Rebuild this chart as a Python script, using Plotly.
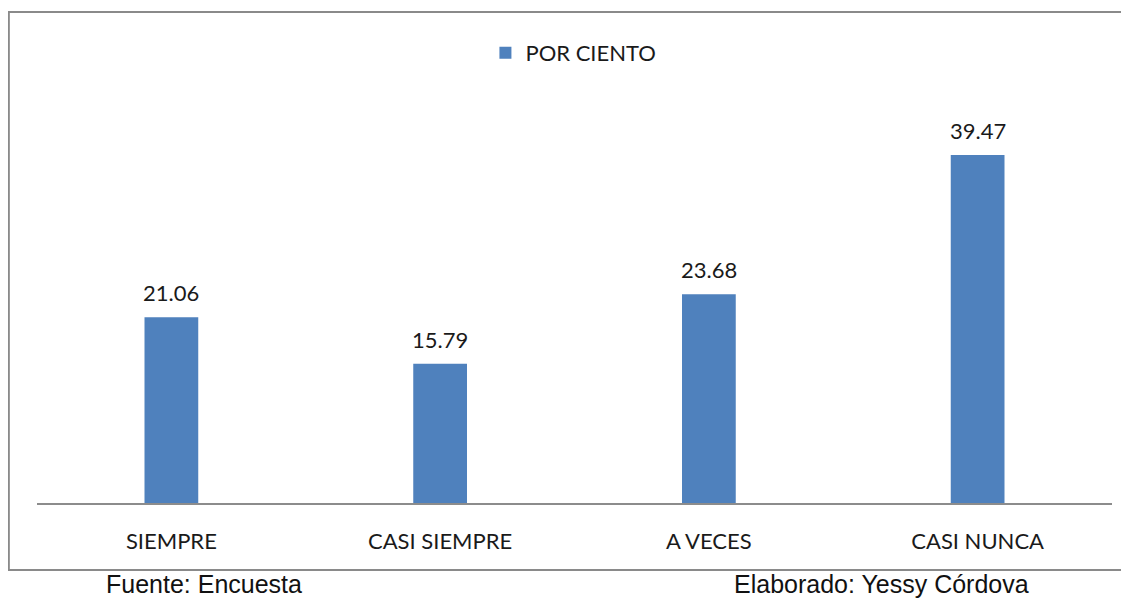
import plotly.graph_objects as go

# data
categories = ["SIEMPRE", "CASI SIEMPRE", "A VECES", "CASI NUNCA"]
por_ciento = [21.06, 15.79, 23.68, 39.47]
series_name = "POR CIENTO"

LABEL_FONT = dict(family="Lato, Open Sans, sans-serif", size=22, color="#1a1a1a")
NOTE_FONT = dict(family="Liberation Sans, Arial, sans-serif", size=25, color="#111111")

fig = go.Figure()
fig.add_trace(go.Bar(
    x=categories,
    y=por_ciento,
    name=series_name,
    marker=dict(color="#4F81BD", line=dict(width=0)),
    showlegend=True,
))

# value labels above the bars
value_labels = [
    dict(x=c, y=v, text=f"{v:.2f}", xref="x", yref="y",
         xanchor="center", yanchor="bottom", yshift=9,
         showarrow=False, font=LABEL_FONT)
    for c, v in zip(categories, por_ciento)
]

# page adds an 8px body margin, so the figure is sized 8px smaller in width
fig.update_layout(
    width=1121,
    height=599,
    margin=dict(l=29, r=17, t=92, b=104),
    paper_bgcolor="white",
    plot_bgcolor="white",
    bargap=0.8,
    showlegend=True,
    legend=dict(
        orientation="h",
        x=0.499, y=1.117,
        xanchor="center", yanchor="middle",
        font=LABEL_FONT,
    ),
    xaxis=dict(
        showline=True, linecolor="#8c8c8c", linewidth=1.5,
        showgrid=False, ticks="", ticklabelstandoff=18,
        tickfont=LABEL_FONT,
    ),
    yaxis=dict(
        range=[0, 45.7], visible=False, showgrid=False, zeroline=False,
    ),
    # outer frame of the chart area
    shapes=[dict(
        type="rect", xref="paper", yref="paper",
        x0=-0.0262, x1=1.06, y0=-0.1663, y1=1.2184,
        line=dict(color="#8a8a8a", width=2),
        layer="below",
    )],
    annotations=value_labels + [
        dict(text="Fuente: Encuesta", xref="paper", yref="paper",
             x=0.155, y=-0.202, xanchor="center", yanchor="middle", showarrow=False,
             font=NOTE_FONT),
        dict(text="Elaborado: Yessy Córdova", xref="paper", yref="paper",
             x=0.786, y=-0.202, xanchor="center", yanchor="middle", showarrow=False,
             font=NOTE_FONT),
    ],
)

fig.write_html("out.html")
